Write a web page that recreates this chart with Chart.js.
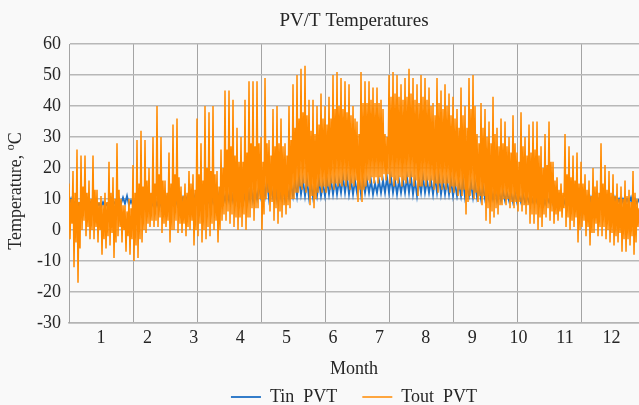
<!DOCTYPE html>
<html>
<head>
<meta charset="utf-8">
<title>PV/T Temperatures</title>
<script src="https://cdn.jsdelivr.net/npm/chart.js@4/dist/chart.umd.min.js"></script>
<style>
  html, body { margin: 0; padding: 0; background: #f9f9f9; }
  canvas { display: block; }
</style>
</head>
<body>
<canvas id="grafico-pvt" width="639" height="405"></canvas>
<script>
// uma coluna = 62.5 h; cada coluna guarda pico, vale e a faixa "cheia" do meio
const COLUNA_H = 62.5;
const HORAS_MAX = 8906;

const meses = ["1", "2", "3", "4", "5", "6", "7", "8", "9", "10", "11", "12"];
const mesesHora = [500, 1225, 1950, 2675, 3400, 4125, 4850, 5575, 6300, 7025, 7750, 8475];
const gradeHora = [0, 1000, 2000, 3000, 4000, 5000, 6000, 7000, 8000];
const temperaturas = [-30, -20, -10, 0, 10, 20, 30, 40, 50, 60];

// Tout_PVT
const toutMax = [
  15, 19, 26, 24, 24, 16, 24, 13, 11, 12, 22, 17, 28, 10, 8, 10, 21, 29, 32, 29, 20, 30, 40,
  30, 16, 25, 34, 36, 14, 15, 19, 18, 36, 28, 40, 38, 40, 19, 26, 45, 45, 42, 33, 30, 42, 48, 48,
  48, 30, 49, 29, 39, 40, 36, 28, 40, 47, 50, 52, 53, 42, 42, 40, 44, 40, 43, 50, 51, 49, 48, 47,
  40, 35, 51, 48, 48, 46, 46, 42, 31, 50, 51, 50, 47, 49, 52, 49, 47, 50, 49, 46, 41, 49, 45, 47,
  44, 43, 39, 46, 40, 49, 50, 31, 41, 39, 35, 43, 33, 36, 35, 30, 37, 25, 38, 30, 34, 35, 35,
  27, 31, 35, 22, 17, 15, 31, 27, 24, 25, 22, 18, 16, 20, 16, 28, 21, 19, 18, 15, 14, 16, 13, 19, 10
];
const toutMin = [
  -3, -12, -17, 0, -2, -3, -3, -4, -8, -6, -5, -9, -2, -4, -7, -8, -10, -9, -4, -1, 1, 1, 1,
  -1, 1, -4, 0, -1, -1, -2, 0, -5, -2, -4, -3, -2, 0, -4, 3, 3, 2, 1, 0, 1, 0, 4, 3,
  7, 0, 10, 6, 3, 2, 4, 5, 7, 10, 12, 13, 12, 8, 7, 12, 12, 12, 13, 13, 14, 14, 14, 13,
  14, 9, 9, 14, 15, 15, 15, 16, 16, 15, 14, 15, 14, 15, 15, 14, 11, 14, 14, 14, 13, 12, 13, 13,
  12, 12, 11, 11, 5, 11, 10, 9, 8, 3, 2, 4, 5, 8, 8, 7, 7, 6, 6, 5, 2, 2, 0,
  1, 4, 3, 2, 3, 4, 1, 0, 1, -4, 1, -2, -5, -1, -2, -2, -3, -4, -5, -4, -7, -7, -5, -8, 1
];
const toutCorpo = [
  10, 12, 9, 14, 12, 10, 13, 9, 8, 9, 12, 10, 13, 8, 6, 7, 12, 15, 14, 16, 12, 15, 18,
  16, 12, 15, 18, 17, 11, 12, 15, 13, 18, 16, 20, 19, 18, 14, 20, 26, 27, 24, 22, 22, 25, 28, 27,
  28, 22, 28, 24, 27, 28, 27, 24, 29, 33, 36, 38, 37, 32, 31, 34, 36, 34, 36, 39, 40, 39, 38, 37,
  36, 31, 41, 41, 42, 41, 41, 39, 30, 43, 44, 43, 42, 43, 44, 42, 41, 43, 42, 40, 37, 41, 39, 40,
  37, 36, 33, 37, 33, 39, 40, 28, 33, 30, 28, 31, 27, 28, 27, 25, 28, 22, 27, 24, 25, 26, 24,
  20, 21, 22, 16, 13, 12, 18, 17, 16, 15, 15, 13, 11, 14, 12, 15, 13, 12, 11, 10, 10, 11, 9, 12, 7
];
const toutBase = [
  2, -4, -6, 3, 1, 0, 1, 0, -3, -2, -1, -4, 1, 0, -2, -3, -5, -3, 0, 2, 3, 3, 4,
  2, 3, 0, 3, 2, 2, 1, 3, 0, 2, 0, 1, 2, 3, 0, 5, 6, 5, 4, 4, 5, 4, 7, 7,
  10, 5, 12, 9, 7, 6, 8, 8, 10, 12, 14, 15, 14, 11, 10, 14, 14, 14, 15, 15, 15, 16, 16, 15,
  16, 13, 13, 16, 17, 17, 17, 18, 18, 17, 16, 17, 16, 17, 17, 16, 14, 16, 16, 16, 15, 15, 15, 15,
  14, 14, 13, 13, 9, 13, 12, 11, 11, 7, 6, 7, 8, 10, 10, 9, 9, 9, 8, 8, 5, 5, 4,
  5, 7, 6, 5, 6, 7, 4, 3, 4, 0, 3, 1, -1, 2, 1, 1, 0, -1, -2, -1, -3, -3, -2, -4, 3
];

// Tin_PVT
const tinMax = [
  10, 9, 8.5, 8, 8.5, 9, 8.5, 8.5, 9, 8.5, 9, 9, 10, 10.5, 11, 9.5, 9, 9.5, 9, 9.5, 9.5, 10, 10,
  10, 10.5, 10, 10.5, 11, 10.5, 10.5, 11, 11, 11, 11.5, 11, 11.5, 12, 11.5, 12, 12.5, 13, 12.5, 13, 13, 14, 14, 13,
  14, 15, 16, 14, 15, 14, 15, 14, 15, 16, 17, 16, 16, 15, 15, 16, 15, 16, 16, 16, 16, 17, 17, 16,
  16, 17, 16, 16, 16, 15, 16, 16, 17, 17, 16, 16, 16, 17, 17, 16, 16, 17, 16, 16, 17, 17, 16, 16,
  16, 15, 15, 16, 14, 15, 15, 14, 14, 13, 13, 13, 12.5, 12.5, 12, 12, 12, 11.5, 11.5, 11, 11, 11, 11,
  11, 10.5, 11, 10.5, 10.5, 10.5, 10.5, 10, 10, 10, 10, 10, 10.5, 10, 10, 10.5, 10, 10, 10.5, 10, 10, 10, 10.5, 10, 10
];
const tinMin = [
  8, 7.5, 7, 7, 7, 7.5, 7, 7.5, 7.5, 7.5, 7.5, 8, 8, 8.5, 8.5, 8, 8, 8, 8, 8, 8, 8, 8,
  8, 8, 8, 8.5, 8.5, 8.5, 8.5, 8.5, 8.5, 9, 9, 9, 9, 9, 9, 9.5, 9.5, 9.5, 9.5, 10, 10, 10, 10, 9.5,
  10, 10.5, 11, 10, 10.5, 10, 10.5, 10, 10.5, 11, 11, 11.5, 11, 10.5, 10.5, 11, 11, 11, 11.5, 11.5, 11.5, 12, 12, 11.5,
  11.5, 12, 11.5, 12, 12, 11.5, 12, 12, 12, 12, 12, 11.5, 12, 12, 12, 11.5, 11, 12, 12, 12, 11.5, 12, 11.5, 11.5,
  11.5, 11, 11, 11, 10.5, 11, 10.5, 10.5, 10, 10, 10, 10, 9.5, 9.5, 9.5, 9.5, 9, 9, 9, 9, 9, 9, 9,
  9, 8.5, 9, 8.5, 8.5, 8.5, 8.5, 8.5, 8.5, 8.5, 8.5, 8.5, 8, 8.5, 8, 8.5, 8, 8.5, 8, 8.5, 8, 8.5, 8.5, 8, 8.5
];

const FONTE = "'Liberation Serif', 'Times New Roman', serif";
const COR_TEXTO = "#262626";

// espalha os valores de cada coluna, na ordem dada, dentro da largura da coluna
function serie(...listas) {
  const pts = [];
  const passo = COLUNA_H / listas.length;
  listas[0].forEach((_, i) => {
    listas.forEach((l, k) => pts.push({ x: i * COLUNA_H + k * passo, y: l[i] }));
  });
  return pts;
}

// titulo do eixo y com o "o" sobrescrito
const tituloEixoY = {
  id: "tituloEixoY",
  afterDraw(chart) {
    const ctx = chart.ctx;
    const p1 = "Temperature, ";
    ctx.save();
    ctx.fillStyle = COR_TEXTO;
    ctx.textBaseline = "middle";
    ctx.textAlign = "left";
    ctx.font = "18px " + FONTE;
    const w1 = ctx.measureText(p1).width;
    const wC = ctx.measureText("C").width;
    ctx.font = "12px " + FONTE;
    const wo = ctx.measureText("o").width;
    const total = w1 + wo + wC;
    ctx.translate(16, 191);
    ctx.rotate(-Math.PI / 2);
    ctx.font = "18px " + FONTE;
    ctx.fillText(p1, -total / 2, 0);
    ctx.font = "12px " + FONTE;
    ctx.fillText("o", -total / 2 + w1, -5);
    ctx.font = "18px " + FONTE;
    ctx.fillText("C", -total / 2 + w1 + wo, 0);
    ctx.restore();
  }
};

new Chart(document.getElementById("grafico-pvt"), {
  type: "line",
  data: {
    datasets: [
      {
        label: "Tin  PVT",
        data: serie(tinMin, tinMax),
        borderColor: "#1d6fc4",
        backgroundColor: "#1d6fc4",
        borderWidth: 1.8,
        pointRadius: 0,
        tension: 0,
        order: 2
      },
      {
        label: "Tout  PVT",
        data: serie(toutMax, toutMin, toutCorpo, toutBase),
        borderColor: "#ff8a00",
        backgroundColor: "#ff8a00",
        borderWidth: 1.5,
        pointRadius: 0,
        tension: 0,
        order: 1
      }
    ]
  },
  options: {
    responsive: false,
    animation: false,
    layout: { padding: { left: 0, right: 0, top: 0, bottom: -11 } },
    plugins: {
      title: {
        display: true,
        text: "PV/T Temperatures",
        fullSize: false,
        color: COR_TEXTO,
        font: { family: FONTE, size: 19, weight: "normal" },
        padding: { top: 10, bottom: 11.2 }
      },
      legend: {
        position: "bottom",
        fullSize: false,
        labels: {
          color: COR_TEXTO,
          font: { family: FONTE, size: 18 },
          usePointStyle: true,
          pointStyle: "line",
          pointStyleWidth: 30,
          padding: 25,
          sort: (a, b) => a.datasetIndex - b.datasetIndex
        }
      },
      tooltip: { enabled: false }
    },
    scales: {
      x: {
        type: "linear",
        min: 0,
        max: HORAS_MAX,
        afterBuildTicks: (s) => {
          s.ticks = gradeHora.concat(mesesHora).sort((a, b) => a - b).map((v) => ({ value: v }));
        },
        afterFit: (s) => { s.height = 40; },
        grid: {
          drawTicks: false,
          lineWidth: 1,
          color: (c) => (c.tick && gradeHora.includes(c.tick.value) ? "#a4a4a4" : "rgba(0,0,0,0)")
        },
        border: { color: "#b4b4b4", width: 1.5 },
        ticks: {
          autoSkip: false,
          maxRotation: 0,
          padding: 4,
          color: COR_TEXTO,
          font: { family: FONTE, size: 18 },
          callback: (v) => {
            const k = mesesHora.indexOf(v);
            return k >= 0 ? meses[k] : "";
          }
        },
        title: {
          display: true,
          text: "Month",
          color: COR_TEXTO,
          font: { family: FONTE, size: 18 },
          padding: { top: 0, bottom: -16.8 }
        }
      },
      y: {
        min: -30,
        max: 60,
        afterBuildTicks: (s) => {
          s.ticks = temperaturas.map((v) => ({ value: v }));
        },
        afterFit: (s) => { s.width = 69; },
        grid: { drawTicks: false, color: "#b8b8b8", lineWidth: 1.4 },
        border: { color: "#a4a4a4", width: 1 },
        ticks: {
          padding: 8,
          color: COR_TEXTO,
          font: { family: FONTE, size: 18 }
        }
      }
    }
  },
  plugins: [tituloEixoY]
});
</script>
</body>
</html>
